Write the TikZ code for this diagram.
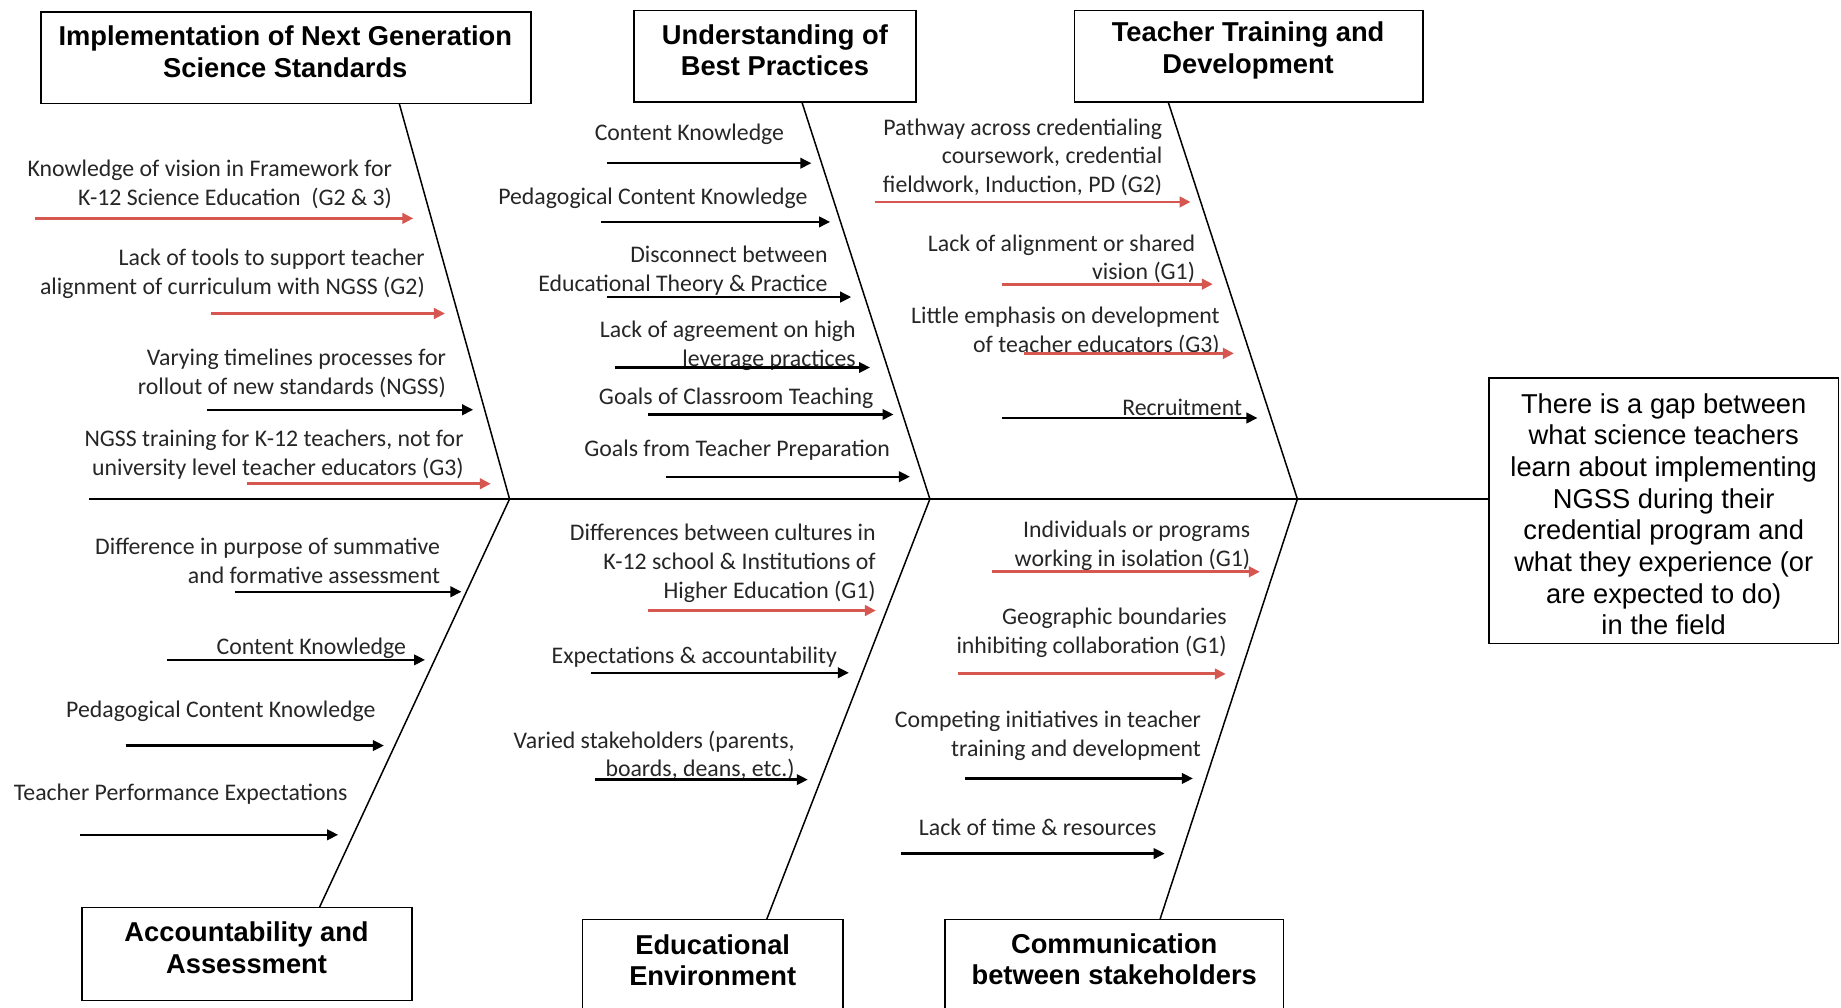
\documentclass[tikz,border=0pt]{standalone}
\usepackage{fontspec}
\setmainfont{Carlito}
\newfontfamily\arialf{Liberation Sans}
\usetikzlibrary{arrows.meta}
\definecolor{redc}{RGB}{214,86,80}
\newcommand\pxu{1.17411pt}
\begin{document}
\begin{tikzpicture}[x=1.17411pt,y=-1.17411pt,
  boxshape/.style={draw,line width=1.6pt,inner sep=0pt},
  titletext/.style={font=\arialf\bfseries\fontsize{27.3}{31.5}\selectfont,align=center,inner sep=0pt},
  gaptext/.style={font=\arialf\fontsize{27.3}{31.7}\selectfont,align=center,inner sep=0pt},
  lab/.style={font=\fontsize{23.8}{28.8}\selectfont,align=right,inner sep=0pt,anchor=east,text=black!85},
  arr/.style={line width=2.3pt,-{Triangle[length=11pt,width=10.5pt]}},
  redarr/.style={arr,draw=redc,line width=2.9pt,-{Triangle[length=11pt,width=10.5pt]}},
  spine/.style={line width=1.6pt},
  bone/.style={line width=1.5pt}]
\useasboundingbox (0,0) rectangle (1568,858);
\fill[white] (0,0) rectangle (1568,858);

% ---------- category boxes ----------
\node[boxshape,minimum width=417*\pxu,minimum height=78*\pxu] (ngss) at (243.5,49) {};
\node[titletext] (ngssT) at (243,44) {Implementation of Next Generation\\Science Standards};
\node[boxshape,minimum width=240*\pxu,minimum height=78*\pxu] (best) at (660,48) {};
\node[titletext] (bestT) at (660,43) {Understanding of\\Best Practices};
\node[boxshape,minimum width=297*\pxu,minimum height=78*\pxu] (train) at (1063.5,48) {};
\node[titletext] (trainT) at (1063,43) {Teacher Training and\\Development};
\node[boxshape,minimum width=281*\pxu,minimum height=79*\pxu] (acc) at (210.5,812.5) {};
\node[titletext] (accT) at (210,807) {Accountability and\\Assessment};
\node[boxshape,minimum width=222*\pxu,minimum height=110*\pxu] (edu) at (607,838) {};
\node[titletext] (eduT) at (607,818) {Educational\\Environment};
\node[boxshape,minimum width=288*\pxu,minimum height=110*\pxu] (comm) at (949,838) {};
\node[titletext] (commT) at (949,817) {Communication\\between stakeholders};
\node[boxshape,minimum width=298*\pxu,minimum height=226*\pxu] (gap) at (1417,435) {};
\node[gaptext] (gapT) at (1417,438) {There is a gap between\\what science teachers\\learn about implementing\\NGSS during their\\credential program and\\what they experience (or\\are expected to do)\\in the field};

% ---------- spine and bones ----------
\coordinate (s0) at (76,425);
\coordinate (j1) at (434,425);
\coordinate (j2) at (792,425);
\coordinate (j3) at (1105,425);
\draw[spine] (s0) -- (j1) -- (j2) -- (j3) -- (gap.west |- s0);
\coordinate (tb1) at (340,88);
\coordinate (tb2) at (683,87);
\coordinate (tb3) at (995,87);
\coordinate (bb1) at (272,773);
\coordinate (bb2) at (653,783);
\coordinate (bb3) at (988,783);
\draw[bone] (tb1) -- (j1);
\draw[bone] (tb2) -- (j2);
\draw[bone] (tb3) -- (j3);
\draw[bone] (bb1) -- (j1);
\draw[bone] (bb2) -- (j2);
\draw[bone] (bb3) -- (j3);

% ---------- NGSS causes ----------
\node[lab] (n1) at (334,157) {Knowledge of vision in Framework for\\K-12 Science Education\ \ (G2 \& 3)};
\coordinate (n1s) at (30,186); \coordinate (n1e) at (352,186);
\draw[redarr] (n1s) -- (n1e);
\node[lab] (n2) at (362,233) {Lack of tools to support teacher\\alignment of curriculum with NGSS (G2)};
\coordinate (n2s) at (180,267); \coordinate (n2e) at (379,267);
\draw[redarr] (n2s) -- (n2e);
\node[lab] (n3) at (380,318) {Varying timelines processes for\\rollout of new standards (NGSS)};
\coordinate (n3s) at (176,349); \coordinate (n3e) at (403,349);
\draw[arr] (n3s) -- (n3e);
\node[lab] (n4) at (395,387) {NGSS training for K-12 teachers, not for\\university level teacher educators (G3)};
\coordinate (n4s) at (210,412); \coordinate (n4e) at (418,412);
\draw[redarr] (n4s) -- (n4e);

% ---------- Best practices causes ----------
\node[lab] (b1) at (668,114) {Content Knowledge};
\coordinate (b1s) at (517,139); \coordinate (b1e) at (691,139);
\draw[arr] (b1s) -- (b1e);
\node[lab] (b2) at (688,169) {Pedagogical Content Knowledge};
\coordinate (b2s) at (512,189); \coordinate (b2e) at (707,189);
\draw[arr] (b2s) -- (b2e);
\node[lab] (b3) at (705,230.5) {Disconnect between\\Educational Theory \& Practice};
\coordinate (b3s) at (517,253); \coordinate (b3e) at (725,253);
\draw[arr] (b3s) -- (b3e);
\node[lab] (b4) at (729,294.5) {Lack of agreement on high\\leverage practices};
\coordinate (b4s) at (524,313); \coordinate (b4e) at (741,313);
\draw[arr] (b4s) -- (b4e);
\node[lab] (b5) at (744,339) {Goals of Classroom Teaching};
\coordinate (b5s) at (552,353); \coordinate (b5e) at (761,353);
\draw[arr] (b5s) -- (b5e);
\node[lab] (b6) at (758,383) {Goals from Teacher Preparation};
\coordinate (b6s) at (567,406); \coordinate (b6e) at (775,406);
\draw[arr] (b6s) -- (b6e);

% ---------- Teacher training causes ----------
\node[lab] (t1) at (990,134) {Pathway across credentialing\\coursework, credential\\fieldwork, Induction, PD (G2)};
\coordinate (t1s) at (745,172); \coordinate (t1e) at (1014,172);
\draw[redarr] (t1s) -- (t1e);
\node[lab] (t2) at (1018,220.5) {Lack of alignment or shared\\vision (G1)};
\coordinate (t2s) at (853,242); \coordinate (t2e) at (1033,242);
\draw[redarr] (t2s) -- (t2e);
\node[lab] (t3) at (1039,282) {Little emphasis on development\\of teacher educators (G3)};
\coordinate (t3s) at (872,301); \coordinate (t3e) at (1051,301);
\draw[redarr] (t3s) -- (t3e);
\node[lab] (t4) at (1058,347) {Recruitment};
\coordinate (t4s) at (853,356); \coordinate (t4e) at (1071,356);
\draw[arr] (t4s) -- (t4e);

% ---------- Accountability causes ----------
\node[lab] (a1) at (375,477.5) {Difference in purpose of summative\\and formative assessment};
\coordinate (a1s) at (200,504); \coordinate (a1e) at (393,504);
\draw[arr] (a1s) -- (a1e);
\node[lab] (a2) at (346,552) {Content Knowledge};
\coordinate (a2s) at (142,562); \coordinate (a2e) at (362,562);
\draw[arr] (a2s) -- (a2e);
\node[lab] (a3) at (320,606) {Pedagogical Content Knowledge};
\coordinate (a3s) at (107,635); \coordinate (a3e) at (327,635);
\draw[arr] (a3s) -- (a3e);
\node[lab] (a4) at (296,676) {Teacher Performance Expectations};
\coordinate (a4s) at (68,711); \coordinate (a4e) at (288,711);
\draw[arr] (a4s) -- (a4e);

% ---------- Educational environment causes ----------
\node[lab] (e1) at (746,480) {Differences between cultures in\\K-12 school \& Institutions of\\Higher Education (G1)};
\coordinate (e1s) at (552,520); \coordinate (e1e) at (746,520);
\draw[redarr] (e1s) -- (e1e);
\node[lab] (e2) at (713,560) {Expectations \& accountability};
\coordinate (e2s) at (503,573); \coordinate (e2e) at (723,573);
\draw[arr] (e2s) -- (e2e);
\node[lab] (e3) at (677,643.5) {Varied stakeholders (parents,\\boards, deans, etc.)};
\coordinate (e3s) at (507,664); \coordinate (e3e) at (688,664);
\draw[arr] (e3s) -- (e3e);

% ---------- Communication causes ----------
\node[lab] (c1) at (1065,465) {Individuals or programs\\working in isolation (G1)};
\coordinate (c1s) at (845,487); \coordinate (c1e) at (1073,487);
\draw[redarr] (c1s) -- (c1e);
\node[lab] (c2) at (1045,539) {Geographic boundaries\\inhibiting collaboration (G1)};
\coordinate (c2s) at (816,574); \coordinate (c2e) at (1044,574);
\draw[redarr] (c2s) -- (c2e);
\node[lab] (c3) at (1023,627) {Competing initiatives in teacher\\training and development};
\coordinate (c3s) at (822,663); \coordinate (c3e) at (1016,663);
\draw[arr] (c3s) -- (c3e);
\node[lab] (c4) at (985,705) {Lack of time \& resources};
\coordinate (c4s) at (767,727); \coordinate (c4e) at (992,727);
\draw[arr] (c4s) -- (c4e);
\end{tikzpicture}
\end{document}
